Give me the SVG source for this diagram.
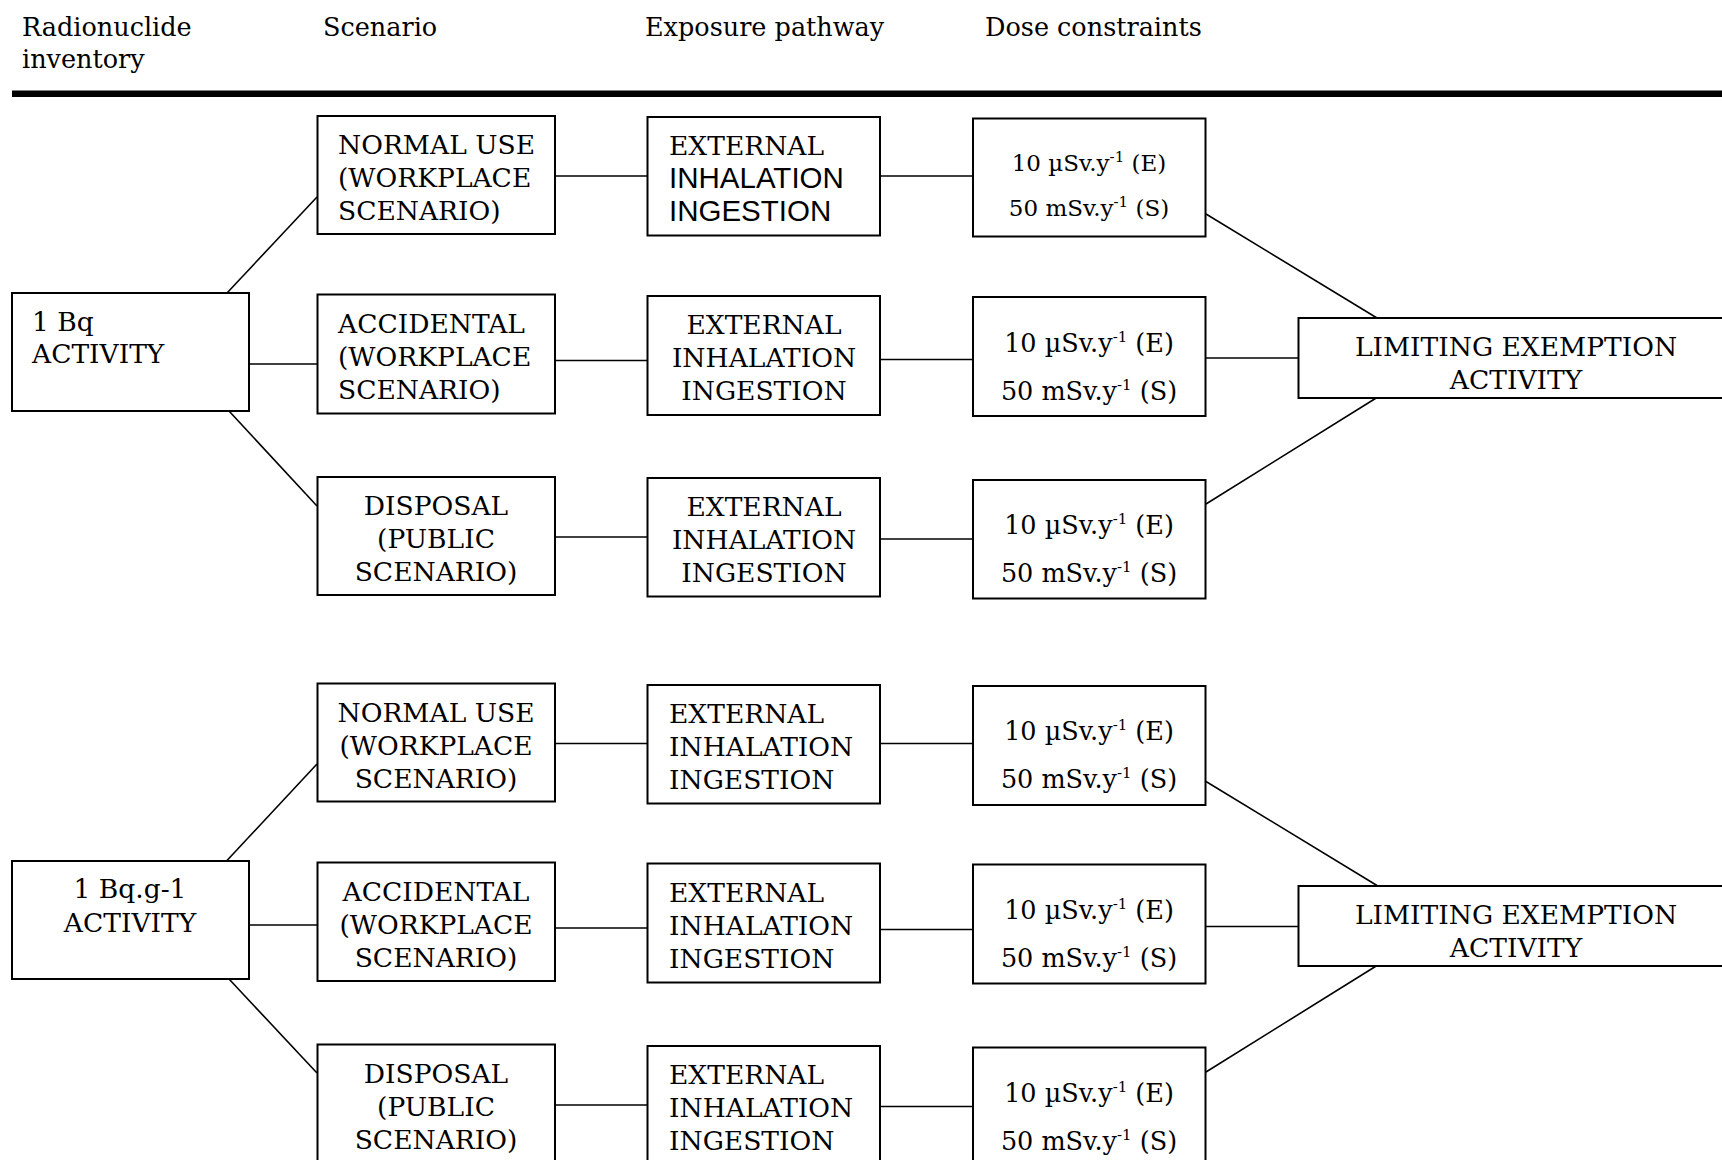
<svg xmlns="http://www.w3.org/2000/svg" width="1722" height="1160" viewBox="0 0 1722 1160">
<style>
.bg{fill:#fff}
.box{fill:#fff;stroke:#000;stroke-width:2}
.ln{stroke:#000;stroke-width:1.6;fill:none}
.hd{font-family:"DejaVu Serif","Liberation Serif",serif;font-size:25.5px;fill:#000}
.t{font-family:"DejaVu Serif","Liberation Serif",serif;font-size:26.5px;fill:#000}
.ts{font-family:"Liberation Sans",Arial,sans-serif;font-size:29.5px;fill:#000}
.c{text-anchor:middle}
.d{font-family:"DejaVu Serif","Liberation Serif",serif;font-size:25.5px;fill:#000;text-anchor:middle}
.d1{font-size:23px}
.sup{font-size:15px}
</style>
<rect class="bg" x="0" y="0" width="1722" height="1160"/>
<g id="header">
<text class="hd" x="22" y="36">Radionuclide</text>
<text class="hd" x="22" y="68">inventory</text>
<text class="hd" x="323" y="36">Scenario</text>
<text class="hd" x="645" y="36">Exposure pathway</text>
<text class="hd" x="985" y="36">Dose constraints</text>
<rect x="12" y="90.5" width="1720" height="6.5" fill="#000"/>
</g>
<g id="connectors">
<line class="ln" x1="227" y1="293" x2="317" y2="197"/>
<line class="ln" x1="249" y1="364" x2="317" y2="364"/>
<line class="ln" x1="229" y1="411" x2="317" y2="506"/>
<line class="ln" x1="555" y1="176" x2="647.5" y2="176"/>
<line class="ln" x1="555" y1="360.5" x2="647.5" y2="360.5"/>
<line class="ln" x1="555" y1="537" x2="647.5" y2="537"/>
<line class="ln" x1="880" y1="176" x2="973" y2="176"/>
<line class="ln" x1="880" y1="359.5" x2="973" y2="359.5"/>
<line class="ln" x1="880" y1="539" x2="973" y2="539"/>
<line class="ln" x1="1206" y1="214" x2="1377" y2="318"/>
<line class="ln" x1="1205.5" y1="358" x2="1298.5" y2="358"/>
<line class="ln" x1="1206" y1="504" x2="1377" y2="397.5"/>
<line class="ln" x1="227" y1="860.5" x2="317" y2="764"/>
<line class="ln" x1="249" y1="925" x2="317" y2="925"/>
<line class="ln" x1="229" y1="979" x2="317" y2="1073"/>
<line class="ln" x1="555" y1="743.5" x2="647.5" y2="743.5"/>
<line class="ln" x1="555" y1="928" x2="647.5" y2="928"/>
<line class="ln" x1="555" y1="1105" x2="647.5" y2="1105"/>
<line class="ln" x1="880" y1="743.5" x2="973" y2="743.5"/>
<line class="ln" x1="880" y1="929.5" x2="973" y2="929.5"/>
<line class="ln" x1="880" y1="1106.5" x2="973" y2="1106.5"/>
<line class="ln" x1="1206" y1="781.5" x2="1377" y2="885.5"/>
<line class="ln" x1="1205.5" y1="926.5" x2="1298.5" y2="926.5"/>
<line class="ln" x1="1206" y1="1072" x2="1377" y2="965.5"/>
</g>
<g id="n-1bq">
<rect class="box" x="12" y="293" width="237" height="118"/>
<text class="t" x="32" y="331">1 Bq</text>
<text class="t" x="32" y="363">ACTIVITY</text>
</g>
<g id="n-normal1">
<rect class="box" x="317.5" y="116" width="237.5" height="118"/>
<text class="t" x="338" y="154">NORMAL USE</text>
<text class="t" x="338" y="187">(WORKPLACE</text>
<text class="t" x="338" y="220">SCENARIO)</text>
</g>
<g id="n-accidental1">
<rect class="box" x="317.5" y="294.5" width="237.5" height="119"/>
<text class="t" x="338" y="333">ACCIDENTAL</text>
<text class="t" x="338" y="366">(WORKPLACE</text>
<text class="t" x="338" y="399">SCENARIO)</text>
</g>
<g id="n-disposal1">
<rect class="box" x="317.5" y="477" width="237.5" height="118"/>
<text class="t c" x="436" y="515">DISPOSAL</text>
<text class="t c" x="436" y="548">(PUBLIC</text>
<text class="t c" x="436" y="581">SCENARIO)</text>
</g>
<g id="n-path1">
<rect class="box" x="647.5" y="117" width="232.5" height="118.5"/>
<text class="t" x="669" y="155">EXTERNAL</text>
<text class="ts" x="669" y="188">INHALATION</text>
<text class="ts" x="669" y="221">INGESTION</text>
</g>
<g id="n-path2">
<rect class="box" x="647.5" y="296" width="232.5" height="119"/>
<text class="t c" x="764" y="334">EXTERNAL</text>
<text class="t c" x="764" y="367">INHALATION</text>
<text class="t c" x="764" y="400">INGESTION</text>
</g>
<g id="n-path3">
<rect class="box" x="647.5" y="478" width="232.5" height="118.5"/>
<text class="t c" x="764" y="516">EXTERNAL</text>
<text class="t c" x="764" y="549">INHALATION</text>
<text class="t c" x="764" y="582">INGESTION</text>
</g>
<g id="n-dose1">
<rect class="box" x="973" y="118.5" width="232.5" height="118"/>
<text class="d d1" x="1089" y="171">10 µSv.y<tspan class="sup" dy="-9">-1</tspan><tspan dy="9"> (E)</tspan></text>
<text class="d d1" x="1089" y="216">50 mSv.y<tspan class="sup" dy="-9">-1</tspan><tspan dy="9"> (S)</tspan></text>
</g>
<g id="n-dose2">
<rect class="box" x="973" y="297" width="232.5" height="119"/>
<text class="d" x="1089" y="351.5">10 µSv.y<tspan class="sup" dy="-10">-1</tspan><tspan dy="10"> (E)</tspan></text>
<text class="d" x="1089" y="399.5">50 mSv.y<tspan class="sup" dy="-10">-1</tspan><tspan dy="10"> (S)</tspan></text>
</g>
<g id="n-dose3">
<rect class="box" x="973" y="480" width="232.5" height="118.5"/>
<text class="d" x="1089" y="534">10 µSv.y<tspan class="sup" dy="-10">-1</tspan><tspan dy="10"> (E)</tspan></text>
<text class="d" x="1089" y="582">50 mSv.y<tspan class="sup" dy="-10">-1</tspan><tspan dy="10"> (S)</tspan></text>
</g>
<g id="n-limit1">
<rect class="box" x="1298.5" y="318" width="440" height="80"/>
<text class="t c" x="1516" y="356">LIMITING EXEMPTION</text>
<text class="t c" x="1516" y="389">ACTIVITY</text>
</g>
<g id="n-1bqg">
<rect class="box" x="12" y="861" width="237" height="118"/>
<text class="t c" x="130" y="898">1 Bq.g-1</text>
<text class="t c" x="130" y="932">ACTIVITY</text>
</g>
<g id="n-normal2">
<rect class="box" x="317.5" y="683.5" width="237.5" height="118"/>
<text class="t c" x="436" y="721.5">NORMAL USE</text>
<text class="t c" x="436" y="754.5">(WORKPLACE</text>
<text class="t c" x="436" y="787.5">SCENARIO)</text>
</g>
<g id="n-accidental2">
<rect class="box" x="317.5" y="862.5" width="237.5" height="118.5"/>
<text class="t c" x="436" y="900.5">ACCIDENTAL</text>
<text class="t c" x="436" y="933.5">(WORKPLACE</text>
<text class="t c" x="436" y="966.5">SCENARIO)</text>
</g>
<g id="n-disposal2">
<rect class="box" x="317.5" y="1044.5" width="237.5" height="118.5"/>
<text class="t c" x="436" y="1082.5">DISPOSAL</text>
<text class="t c" x="436" y="1115.5">(PUBLIC</text>
<text class="t c" x="436" y="1148.5">SCENARIO)</text>
</g>
<g id="n-path4">
<rect class="box" x="647.5" y="685" width="232.5" height="118.5"/>
<text class="t" x="669" y="723">EXTERNAL</text>
<text class="t" x="669" y="756">INHALATION</text>
<text class="t" x="669" y="789">INGESTION</text>
</g>
<g id="n-path5">
<rect class="box" x="647.5" y="863.5" width="232.5" height="119"/>
<text class="t" x="669" y="901.5">EXTERNAL</text>
<text class="t" x="669" y="934.5">INHALATION</text>
<text class="t" x="669" y="967.5">INGESTION</text>
</g>
<g id="n-path6">
<rect class="box" x="647.5" y="1046" width="232.5" height="118.5"/>
<text class="t" x="669" y="1084">EXTERNAL</text>
<text class="t" x="669" y="1117">INHALATION</text>
<text class="t" x="669" y="1150">INGESTION</text>
</g>
<g id="n-dose4">
<rect class="box" x="973" y="686" width="232.5" height="119"/>
<text class="d" x="1089" y="740">10 µSv.y<tspan class="sup" dy="-10">-1</tspan><tspan dy="10"> (E)</tspan></text>
<text class="d" x="1089" y="788">50 mSv.y<tspan class="sup" dy="-10">-1</tspan><tspan dy="10"> (S)</tspan></text>
</g>
<g id="n-dose5">
<rect class="box" x="973" y="864.5" width="232.5" height="119"/>
<text class="d" x="1089" y="918.5">10 µSv.y<tspan class="sup" dy="-10">-1</tspan><tspan dy="10"> (E)</tspan></text>
<text class="d" x="1089" y="966.5">50 mSv.y<tspan class="sup" dy="-10">-1</tspan><tspan dy="10"> (S)</tspan></text>
</g>
<g id="n-dose6">
<rect class="box" x="973" y="1047.5" width="232.5" height="119"/>
<text class="d" x="1089" y="1101.5">10 µSv.y<tspan class="sup" dy="-10">-1</tspan><tspan dy="10"> (E)</tspan></text>
<text class="d" x="1089" y="1149.5">50 mSv.y<tspan class="sup" dy="-10">-1</tspan><tspan dy="10"> (S)</tspan></text>
</g>
<g id="n-limit2">
<rect class="box" x="1298.5" y="886" width="440" height="80"/>
<text class="t c" x="1516" y="923.5">LIMITING EXEMPTION</text>
<text class="t c" x="1516" y="957">ACTIVITY</text>
</g>
</svg>
